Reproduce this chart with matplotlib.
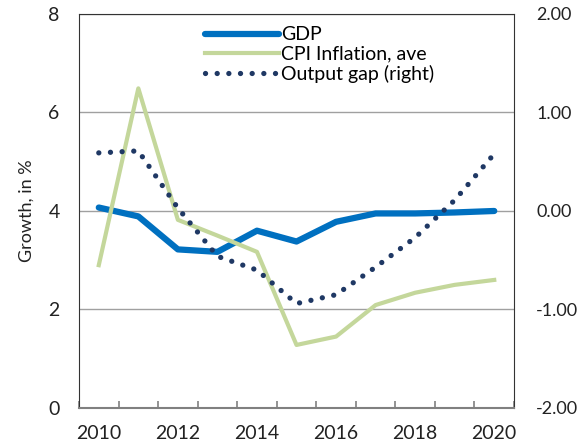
import numpy as np
import matplotlib
matplotlib.use('Agg')
from matplotlib import pyplot as plt

plt.rcParams['font.family'] = ['Lato', 'DejaVu Sans']

years = [2010, 2011, 2012, 2013, 2014, 2015, 2016, 2017, 2018, 2019, 2020]
gdp = [4.07, 3.89, 3.22, 3.17, 3.60, 3.38, 3.78, 3.95, 3.95, 3.97, 4.00]
cpi = [2.90, 6.49, 3.82, 3.50, 3.17, 1.28, 1.45, 2.09, 2.34, 2.50, 2.60]
output_gap = [0.59, 0.61, 0.03, -0.46, -0.60, -0.94, -0.85, -0.57, -0.27, 0.11, 0.58]

x = np.arange(len(years))

fig = plt.figure(figsize=(5.78, 4.47), dpi=100)
ax = fig.add_axes([0.1367, 0.0873, 0.7526, 0.8814])
ax2 = ax.twinx()

l1, = ax.plot(x, gdp, color='#0070C0', lw=4.5, solid_joinstyle='round', solid_capstyle='round', label='GDP')
l2, = ax.plot(x, cpi, color='#C4D79B', lw=3, label='CPI Inflation, ave')
l3, = ax2.plot(x, output_gap, color='#1F3864', lw=3.8, linestyle=(0, (0.01, 2.2)),
               dash_capstyle='round', label='Output gap (right)')

ax.set_xlim(-0.5, len(years) - 0.5)
ax.set_ylim(0, 8)
ax2.set_ylim(-2, 2)
ax.set_yticks([0, 2, 4, 6, 8])
ax2.set_yticks([-2, -1, 0, 1, 2])
ax2.set_yticklabels(['%.2f' % v for v in [-2, -1, 0, 1, 2]])

ax.set_xticks(x[::2])
ax.set_xticklabels([str(y) for y in years[::2]])
ax.set_xticks(np.arange(-0.5, len(years), 1), minor=True)
ax.tick_params(axis='x', which='major', length=0, labelsize=14, pad=12, colors='#222222')
ax.tick_params(axis='x', which='minor', length=5, width=1.2, direction='in', color='#808080')
ax.tick_params(axis='y', length=0, labelsize=14, pad=14, colors='#222222')
ax2.tick_params(axis='y', length=0, labelsize=13, pad=16, colors='#222222')

ax.grid(axis='y', color='#A0A0A0', lw=1)
ax.set_axisbelow(True)
for s in ['left', 'top', 'right']:
    ax.spines[s].set_color('#333333')
ax.spines['bottom'].set_color('#808080')
ax.spines['bottom'].set_linewidth(1.5)
for s in ax2.spines.values():
    s.set_visible(False)
ax.set_ylabel('Growth, in %', fontsize=13, color='#222222', labelpad=10)

ax.legend([l1, l2, l3], ['GDP', 'CPI Inflation, ave', 'Output gap (right)'],
          loc='upper left', bbox_to_anchor=(0.255, 1.008), frameon=False, fontsize=14,
          handlelength=3.8, handletextpad=0.1, labelspacing=0.12, borderpad=0.3)

fig.savefig('out.png', dpi=100)
